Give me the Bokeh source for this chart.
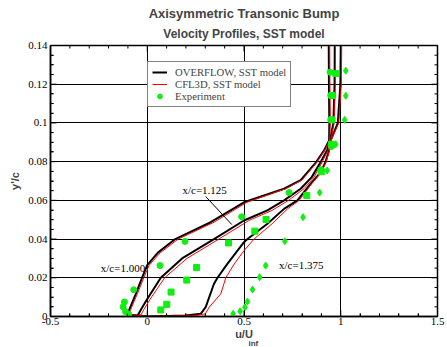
import math
from bokeh.plotting import figure
from bokeh.models import (Range1d, LinearAxis, SingleIntervalTicker, FixedTicker,
                          CustomJSTickFormatter, Label, Legend, LegendItem, Grid, Title)
from bokeh.embed import file_html
from bokeh.resources import INLINE

# ---------------- data ----------------
# OVERFLOW, SST model (black)
ovf_1000_u = [0.0, -0.10, -0.095, -0.059, -0.027, 0.0, 0.055, 0.145, 0.328, 0.50, 0.707, 0.793, 0.871, 0.915, 0.94, 0.941, 0.939, 0.938]
ovf_1000_y = [0.0, 0.001, 0.003, 0.0117, 0.020, 0.0265, 0.033, 0.040, 0.0487, 0.059, 0.066, 0.0705, 0.0795, 0.086, 0.091, 0.10, 0.12, 0.14]
ovf_1125_u = [0.0, -0.05, -0.03, 0.0, 0.07, 0.18, 0.345, 0.50, 0.621, 0.707, 0.793, 0.85, 0.897, 0.93, 0.945, 0.962, 0.968, 0.969]
ovf_1125_y = [0.0, 0.0005, 0.004, 0.009, 0.020, 0.030, 0.040, 0.0496, 0.0548, 0.060, 0.066, 0.072, 0.080, 0.086, 0.091, 0.10, 0.12, 0.14]
ovf_1375_u = [0.0, 0.20, 0.276, 0.302, 0.345, 0.363, 0.414, 0.50, 0.518, 0.621, 0.707, 0.776, 0.845, 0.897, 0.922, 0.94, 0.948, 0.985, 0.998, 1.0]
ovf_1375_y = [0.0, 0.0005, 0.0014, 0.0048, 0.0169, 0.020, 0.0272, 0.0384, 0.040, 0.0479, 0.0556, 0.060, 0.0686, 0.0746, 0.080, 0.086, 0.091, 0.10, 0.12, 0.14]

# CFL3D, SST model (red)
cfl_1000_u = [0.0, -0.09, -0.088, -0.05, -0.018, 0.01, 0.068, 0.16, 0.345, 0.515, 0.715, 0.80, 0.875, 0.918, 0.942, 0.946, 0.944, 0.943]
cfl_1000_y = [0.0, 0.001, 0.003, 0.012, 0.020, 0.0265, 0.033, 0.040, 0.0487, 0.059, 0.066, 0.0705, 0.0795, 0.086, 0.091, 0.10, 0.12, 0.14]
cfl_1125_u = [0.0, -0.035, -0.015, 0.015, 0.09, 0.205, 0.37, 0.525, 0.645, 0.73, 0.81, 0.862, 0.905, 0.935, 0.948, 0.966, 0.972, 0.973]
cfl_1125_y = [0.0, 0.0005, 0.004, 0.009, 0.020, 0.030, 0.040, 0.0496, 0.0548, 0.060, 0.066, 0.072, 0.080, 0.086, 0.091, 0.10, 0.12, 0.14]
cfl_1375_u = [0.0, 0.25, 0.30, 0.32, 0.38, 0.406, 0.45, 0.50, 0.552, 0.645, 0.725, 0.785, 0.85, 0.90, 0.925, 0.942, 0.95, 0.99, 1.003, 1.005]
cfl_1375_y = [0.0, 0.0005, 0.0014, 0.0048, 0.0117, 0.020, 0.0272, 0.034, 0.040, 0.0479, 0.0556, 0.060, 0.0686, 0.0746, 0.080, 0.086, 0.091, 0.10, 0.12, 0.14]

# Experiment
exp_1000_u = [-0.095, -0.112, -0.125, -0.118, -0.070, 0.066, 0.195, 0.488, 0.733, 0.897, 0.952, 0.948, 0.948, 0.945]
exp_1000_y = [0.0010, 0.0025, 0.0050, 0.0075, 0.0138, 0.0263, 0.0388, 0.0515, 0.0640, 0.0758, 0.0878, 0.1016, 0.1142, 0.1262]
exp_1125_u = [0.07, 0.101, 0.123, 0.204, 0.255, 0.42, 0.556, 0.614, 0.824, 0.90, 0.952, 0.955, 0.955, 0.974]
exp_1125_y = [0.0034, 0.0063, 0.0126, 0.0188, 0.0253, 0.038, 0.0441, 0.0501, 0.0625, 0.0748, 0.089, 0.1016, 0.1142, 0.1255]
exp_1375_u = [0.444, 0.48, 0.505, 0.518, 0.544, 0.581, 0.612, 0.711, 0.805, 0.891, 0.93, 0.974, 1.02, 1.026, 1.026]
exp_1375_y = [0.0014, 0.0027, 0.0048, 0.0077, 0.0139, 0.0203, 0.0263, 0.0389, 0.0513, 0.064, 0.0754, 0.089, 0.1016, 0.114, 0.127]

x_major_ticks = [-0.5, 0.0, 0.5, 1.0, 1.5]
x_minor_ticks = [-0.4, -0.3, -0.2, -0.1, 0.1, 0.2, 0.3, 0.4, 0.6, 0.7, 0.8, 0.9, 1.1, 1.2, 1.3, 1.4]
y_major_ticks = [0.0, 0.02, 0.04, 0.06, 0.08, 0.10, 0.12, 0.14]
y_minor_ticks = [0.005, 0.01, 0.015, 0.025, 0.03, 0.035, 0.045, 0.05, 0.055, 0.065, 0.07, 0.075,
                 0.085, 0.09, 0.095, 0.105, 0.11, 0.115, 0.125, 0.13, 0.135]
y_grid_ticks = [0.02, 0.04, 0.06, 0.08, 0.10, 0.12]
x_grid_ticks = [0.0, 0.5, 1.0]

station_labels = ["x/c=1.000", "x/c=1.125", "x/c=1.375"]
station_label_x = [-0.24, 0.182, 0.681]
station_label_y = [0.0248, 0.0651, 0.0267]
leader_x = [0.302, 0.437]
leader_y = [0.062, 0.0475]

title_1 = "Axisymmetric Transonic Bump"
title_2 = "Velocity Profiles, SST model"

GREEN = "#11ee11"
SERIF = "Liberation Serif"
SANS = "Liberation Sans"
X0, X1, Y0, Y1 = -0.5, 1.5, 0.0, 0.14

# ---------------- figure ----------------
p = figure(width=447, height=347, output_backend="svg", toolbar_location=None,
           x_range=Range1d(X0, X1), y_range=Range1d(Y0, Y1),
           x_axis_type=None, y_axis_type=None,
           min_border_left=50, min_border_right=10, min_border_top=45, min_border_bottom=31)
p.outline_line_color = "black"
p.outline_line_width = 1.5
p.background_fill_color = "white"
p.border_fill_color = "white"

fmt = CustomJSTickFormatter(code="return String(Math.round(tick*100)/100);")


def style_axis(ax):
    ax.major_tick_in = 6
    ax.major_tick_out = 0
    ax.minor_tick_in = 3
    ax.minor_tick_out = 0
    ax.axis_line_color = "black"
    ax.axis_line_width = 1.5
    ax.major_tick_line_color = "black"
    ax.minor_tick_line_color = "black"
    ax.major_label_text_font = SERIF
    ax.major_label_text_font_size = "11px"
    ax.major_label_text_color = "black"


xb = LinearAxis(ticker=SingleIntervalTicker(interval=0.5, num_minor_ticks=5), formatter=fmt)
style_axis(xb)
xb.major_label_standoff = 1
xb.axis_label = "u/U"
xb.axis_label_text_font = SANS
xb.axis_label_text_font_style = "bold"
xb.axis_label_text_font_size = "11px"
xb.axis_label_standoff = 0
p.add_layout(xb, "below")

yl = LinearAxis(ticker=SingleIntervalTicker(interval=0.02, num_minor_ticks=4), formatter=fmt)
style_axis(yl)
yl.major_label_standoff = 3
yl.axis_label = "y'/c"
yl.axis_label_text_font = SANS
yl.axis_label_text_font_style = "bold"
yl.axis_label_text_font_size = "11px"
yl.axis_label_standoff = 4
p.add_layout(yl, "left")

# subscript of the x-axis label
p.add_layout(Title(text="inf", text_font=SANS, text_font_style="bold", text_font_size="8px",
                   align="left", offset=198, standoff=-8, vertical_align="top"), "below")
# titles (later ones are placed further from the frame)
p.add_layout(Title(text=title_2, text_font=SANS, text_font_style="bold", text_font_size="12px",
                   align="center", standoff=9), "above")
p.add_layout(Title(text=title_1, text_font=SANS, text_font_style="bold", text_font_size="13px",
                   align="center", standoff=0), "above")

gx = Grid(dimension=0, ticker=FixedTicker(ticks=x_grid_ticks), grid_line_color="black", grid_line_width=1)
gy = Grid(dimension=1, ticker=FixedTicker(ticks=y_grid_ticks), grid_line_color="black", grid_line_width=1)
p.add_layout(gx, "center")
p.add_layout(gy, "center")

# inward tick marks drawn as dash markers centred on the frame edges (outer half is clipped)
p.scatter(x_major_ticks, [Y0] * len(x_major_ticks), marker="dash", size=12, angle=math.pi / 2, line_color="black")
p.scatter(x_major_ticks, [Y1] * len(x_major_ticks), marker="dash", size=12, angle=math.pi / 2, line_color="black")
p.scatter(x_minor_ticks, [Y0] * len(x_minor_ticks), marker="dash", size=6, angle=math.pi / 2, line_color="black")
p.scatter(x_minor_ticks, [Y1] * len(x_minor_ticks), marker="dash", size=6, angle=math.pi / 2, line_color="black")
p.scatter([X0] * len(y_major_ticks), y_major_ticks, marker="dash", size=12, line_color="black")
p.scatter([X1] * len(y_major_ticks), y_major_ticks, marker="dash", size=12, line_color="black")
p.scatter([X0] * len(y_minor_ticks), y_minor_ticks, marker="dash", size=6, line_color="black")
p.scatter([X1] * len(y_minor_ticks), y_minor_ticks, marker="dash", size=6, line_color="black")

# ---------------- curves ----------------
b1 = p.line(ovf_1000_u, ovf_1000_y, line_color="black", line_width=2)
p.line(ovf_1125_u, ovf_1125_y, line_color="black", line_width=2)
p.line(ovf_1375_u, ovf_1375_y, line_color="black", line_width=2)
r1 = p.line(cfl_1000_u, cfl_1000_y, line_color="red", line_width=1)
p.line(cfl_1125_u, cfl_1125_y, line_color="red", line_width=1)
p.line(cfl_1375_u, cfl_1375_y, line_color="red", line_width=1)

e1 = p.scatter(exp_1000_u, exp_1000_y, marker="circle", size=6, fill_color=GREEN, line_color=GREEN)
p.scatter(exp_1125_u, exp_1125_y, marker="square", size=6, fill_color=GREEN, line_color=GREEN)
p.scatter(exp_1375_u, exp_1375_y, marker="diamond", size=7, fill_color=GREEN, line_color=GREEN)

p.line(leader_x, leader_y, line_color="black", line_width=1)

for t, lx, ly in zip(station_labels, station_label_x, station_label_y):
    p.add_layout(Label(x=lx, y=ly, text=t, text_font=SERIF, text_font_size="11px",
                       text_baseline="middle", text_align="left", text_color="black"))

# ---------------- legend ----------------
legend = Legend(items=[LegendItem(label="OVERFLOW, SST model", renderers=[b1]),
                       LegendItem(label="CFL3D, SST model", renderers=[r1]),
                       LegendItem(label="Experiment", renderers=[e1])],
                location=(97, 209), margin=0, padding=4, spacing=0,
                glyph_width=15, glyph_height=12, label_height=12, label_standoff=8,
                label_text_font=SERIF, label_text_font_size="10.7px",
                border_line_color="black", border_line_width=1,
                background_fill_color="white", background_fill_alpha=1)
p.add_layout(legend, "center")

open("out.html", "w").write(file_html(p, INLINE))
